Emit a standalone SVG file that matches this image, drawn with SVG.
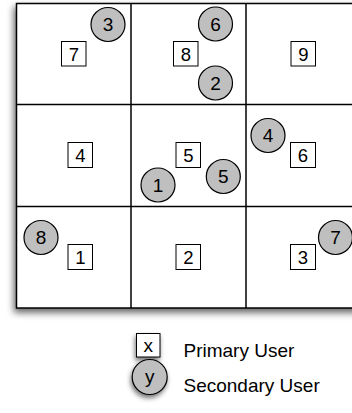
<svg xmlns="http://www.w3.org/2000/svg" width="352" height="413" viewBox="0 0 352 413">
  <defs>
    <filter id="shadow" x="-20%" y="-20%" width="140%" height="140%">
      <feDropShadow dx="-2" dy="4" stdDeviation="3.5" flood-color="#000" flood-opacity="0.6"/>
    </filter>
    <filter id="sshadow" x="-50%" y="-50%" width="200%" height="200%">
      <feDropShadow dx="-1" dy="3" stdDeviation="2.5" flood-color="#000" flood-opacity="0.55"/>
    </filter>
  </defs>
  <style>
    .grid { fill: #fff; stroke: #000; stroke-width: 1.5; }
    .line { stroke: #000; stroke-width: 1.5; }
    .pu { fill: #fff; stroke: #000; stroke-width: 1; }
    .su { fill: #bfbfbf; stroke: #000; stroke-width: 1.2; }
    .t { font-family: "Liberation Sans", Arial, sans-serif; font-size: 18.5px; fill: #000; text-anchor: middle; }
    .c { font-family: "Liberation Sans", Arial, sans-serif; font-size: 19px; fill: #000; text-anchor: middle; }
    .lg { font-family: "Liberation Sans", Arial, sans-serif; font-size: 19px; fill: #000; }
  </style>
  <rect width="352" height="413" fill="#fff"/>

  <g id="grid">
    <rect class="grid" x="16.5" y="3.5" width="345" height="304.5" filter="url(#shadow)"/>
    <line class="line" x1="131" y1="3.5" x2="131" y2="308"/>
    <line class="line" x1="246" y1="3.5" x2="246" y2="308"/>
    <line class="line" x1="16.5" y1="104.5" x2="361.5" y2="104.5"/>
    <line class="line" x1="16.5" y1="206.5" x2="361.5" y2="206.5"/>
  </g>

  <g id="primary-users">
    <g id="pu7"><rect class="pu" x="61.5" y="41.5" width="24.5" height="24.5"/><text class="t" x="73.8" y="60.8">7</text></g>
    <g id="pu8"><rect class="pu" x="173.5" y="41.5" width="24.5" height="24.5"/><text class="t" x="185.8" y="60.8">8</text></g>
    <g id="pu9"><rect class="pu" x="291" y="41.5" width="24.5" height="24.5"/><text class="t" x="303.3" y="60.8">9</text></g>
    <g id="pu4"><rect class="pu" x="68" y="142.5" width="24.5" height="25"/><text class="t" x="80.3" y="162">4</text></g>
    <g id="pu5"><rect class="pu" x="176" y="142.5" width="24.5" height="25"/><text class="t" x="188.3" y="162">5</text></g>
    <g id="pu6"><rect class="pu" x="290.5" y="142.5" width="25" height="25"/><text class="t" x="303" y="162">6</text></g>
    <g id="pu1"><rect class="pu" x="68" y="244.5" width="24.5" height="25"/><text class="t" x="80.3" y="264">1</text></g>
    <g id="pu2"><rect class="pu" x="176" y="244.5" width="24.5" height="25"/><text class="t" x="188.3" y="264">2</text></g>
    <g id="pu3"><rect class="pu" x="290.5" y="244.5" width="25" height="25"/><text class="t" x="303" y="264">3</text></g>
  </g>

  <g id="secondary-users">
    <g id="su3"><circle class="su" cx="108" cy="24.5" r="17"/><text class="c" x="108" y="31.3">3</text></g>
    <g id="su6"><circle class="su" cx="215.5" cy="24" r="17"/><text class="c" x="215.5" y="30.8">6</text></g>
    <g id="su2"><circle class="su" cx="215.5" cy="83" r="17"/><text class="c" x="215.5" y="89.8">2</text></g>
    <g id="su4"><circle class="su" cx="268" cy="135.5" r="17"/><text class="c" x="268" y="142.3">4</text></g>
    <g id="su1"><circle class="su" cx="158" cy="185" r="17"/><text class="c" x="158" y="191.8">1</text></g>
    <g id="su5"><circle class="su" cx="223.3" cy="176.5" r="17"/><text class="c" x="223.3" y="183.3">5</text></g>
    <g id="su8"><circle class="su" cx="41" cy="237.5" r="17"/><text class="c" x="41" y="244.3">8</text></g>
    <g id="su7"><circle class="su" cx="335.5" cy="237.5" r="17"/><text class="c" x="335.5" y="244.3">7</text></g>
  </g>

  <g id="legend">
    <g id="legend-primary">
      <rect class="pu" x="136.5" y="333.5" width="23.5" height="23.5" filter="url(#sshadow)"/>
      <text class="c" x="148.3" y="352">x</text>
      <text class="lg" x="183.5" y="356.5">Primary User</text>
    </g>
    <g id="legend-secondary">
      <circle class="su" cx="149.7" cy="377" r="17.5" filter="url(#sshadow)"/>
      <text class="c" x="149.7" y="383">y</text>
      <text class="lg" x="183.5" y="391.5">Secondary User</text>
    </g>
  </g>
</svg>
